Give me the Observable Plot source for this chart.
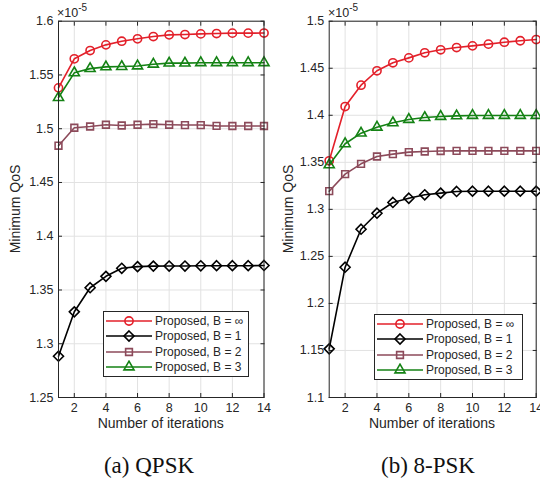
<!DOCTYPE html>
<html>
<head>
<meta charset="utf-8">
<script src="https://cdn.jsdelivr.net/npm/d3@7"></script>
<script src="https://cdn.jsdelivr.net/npm/@observablehq/plot@0.6"></script>
<style>
  body { margin: 0; background: #fff; }
  #wrap { position: relative; width: 540px; height: 483px; overflow: hidden; font-family: "Liberation Sans", Arial, sans-serif; color: #262626; }
  .panel { position: absolute; top: 0; }
  .lbl { position: absolute; font-size: 14px; line-height: 14px; white-space: nowrap; }
  .ylbl { position: absolute; font-size: 14px; line-height: 14px; white-space: nowrap; transform: translate(-50%, -50%) rotate(-90deg); }
  .exp { position: absolute; font-size: 12.5px; white-space: nowrap; }
  .exp sup { font-size: 10px; position: relative; top: -1px; }
  .cap { position: absolute; font-family: "Liberation Serif", "Times New Roman", serif; font-size: 23px; color: #111; white-space: nowrap; transform: translateX(-50%); }
  .legend { position: absolute; background: #fff; border: 1px solid #262626; font-size: 12px; padding: 1px 0 1px 0; }
  .legend .row { display: flex; align-items: center; height: 15.5px; }
  .legend svg { margin: 0 3px 0 2px; }
</style>
</head>
<body>
<div id="wrap"></div>
<script>
// ---- data ----
const iterations = [1, 2, 3, 4, 5, 6, 7, 8, 9, 10, 11, 12, 13, 14];
const seriesNames = ["Proposed, B = \u221e", "Proposed, B = 1", "Proposed, B = 2", "Proposed, B = 3"];
const seriesColors = ["#e3202a", "#000000", "#8c4a5a", "#148214"];
const seriesSymbols = ["circle", "diamond2", "square2", "triangle2"];
const seriesR = [4.1, 4.5, 4.3, 4.8];

// QPSK (x 1e-5)
const qpskInf = [1.538, 1.565, 1.5727, 1.578, 1.5814, 1.5836, 1.5857, 1.5873, 1.5876, 1.5882, 1.5885, 1.5889, 1.5889, 1.589];
const qpskB1 = [1.2884, 1.3297, 1.3521, 1.3627, 1.3702, 1.3717, 1.3722, 1.3723, 1.3723, 1.3725, 1.3726, 1.3726, 1.3726, 1.3728];
const qpskB2 = [1.4842, 1.5009, 1.5021, 1.5037, 1.5030, 1.5037, 1.5043, 1.5037, 1.5034, 1.5034, 1.5026, 1.5025, 1.5025, 1.5025];
const qpskB3 = [1.529, 1.552, 1.5559, 1.5575, 1.5578, 1.5584, 1.5600, 1.5610, 1.5610, 1.5614, 1.5614, 1.5614, 1.5614, 1.5614];

// 8-PSK (x 1e-5)
const psk8Inf = [1.3516, 1.4093, 1.432, 1.4473, 1.4558, 1.461, 1.4664, 1.4696, 1.472, 1.4738, 1.4756, 1.4777, 1.4792, 1.4805];
const psk8B1 = [1.1517, 1.2385, 1.2789, 1.2959, 1.3073, 1.3118, 1.3155, 1.3172, 1.3190, 1.3193, 1.3193, 1.3193, 1.3193, 1.3193];
const psk8B2 = [1.3193, 1.3374, 1.3484, 1.3562, 1.3587, 1.3608, 1.3615, 1.3620, 1.3622, 1.3622, 1.3622, 1.3622, 1.3622, 1.3622];
const psk8B3 = [1.3473, 1.3697, 1.381, 1.3873, 1.392, 1.3955, 1.3976, 1.3987, 1.3994, 1.3998, 1.3998, 1.3998, 1.3998, 1.3998];

// ticks
const xTicks = [2, 4, 6, 8, 10, 12, 14];
const qpskYTicks = [1.25, 1.3, 1.35, 1.4, 1.45, 1.5, 1.55, 1.6];
const psk8YTicks = [1.1, 1.15, 1.2, 1.25, 1.3, 1.35, 1.4, 1.45, 1.5];

const xLabel = "Number of iterations";
const yLabel = "Minimum QoS";
const captions = ["(a) QPSK", "(b) 8-PSK"];

function toRows(seriesArrays) {
  const rows = [];
  seriesArrays.forEach((arr, s) => arr.forEach((v, i) => rows.push({x: iterations[i], y: v, s})));
  return rows;
}

const axisColor = "#262626";
const fmt = d => String(+d.toFixed(2));

function makePanel(seriesArrays, yDomain, yTicks, mLeft, mRight) {
  const rows = toRows(seriesArrays);
  const marks = [
    Plot.gridX(xTicks, {stroke: "#e2e2e2", strokeOpacity: 1}),
    Plot.gridY(yTicks, {stroke: "#e2e2e2", strokeOpacity: 1}),
    Plot.axisX(xTicks, {anchor: "bottom", tickSize: -4, tickPadding: 10, tickFormat: d => String(d), fontSize: 12.5, color: axisColor, label: null}),
    Plot.axisX(xTicks, {anchor: "top", tickSize: -4, tickFormat: () => "", color: axisColor, label: null}),
    Plot.axisY(yTicks, {anchor: "left", tickSize: -4, tickPadding: 9, tickFormat: fmt, fontSize: 12.5, color: axisColor, label: null}),
    Plot.axisY(yTicks, {anchor: "right", tickSize: -4, tickFormat: () => "", color: axisColor, label: null}),
  ];
  seriesArrays.forEach((arr, s) => {
    const data = rows.filter(r => r.s === s);
    marks.push(Plot.line(data, {x: "x", y: "y", stroke: seriesColors[s], strokeWidth: 1.6}));
    marks.push(Plot.dot(data, {x: "x", y: "y", symbol: seriesSymbols[s], r: seriesR[s], stroke: seriesColors[s], fill: "none", strokeWidth: 1.6}));
  });
  marks.push(Plot.frame({stroke: axisColor, strokeWidth: 1}));
  return Plot.plot({
    width: 270,
    height: 440,
    marginLeft: mLeft,
    marginRight: mRight,
    marginTop: 20.7,
    marginBottom: 43,
    x: {domain: [1, 14]},
    y: {domain: yDomain},
    style: {fontFamily: "Liberation Sans, Arial, sans-serif", fontSize: "12.5px", color: axisColor, overflow: "visible", background: "transparent"},
    marks
  });
}

const wrap = document.getElementById("wrap");

function addPanel(left, svg, xCenter, yLblX, expX, cap, capX, legendBox) {
  const div = document.createElement("div");
  div.className = "panel";
  div.style.left = left + "px";
  div.appendChild(svg);
  wrap.appendChild(div);

  const xl = document.createElement("div");
  xl.className = "lbl";
  xl.textContent = xLabel;
  xl.style.left = xCenter + "px";
  xl.style.top = "416px";
  xl.style.transform = "translateX(-50%)";
  wrap.appendChild(xl);

  const yl = document.createElement("div");
  yl.className = "ylbl";
  yl.textContent = yLabel;
  yl.style.left = yLblX + "px";
  yl.style.top = "209px";
  wrap.appendChild(yl);

  const ex = document.createElement("div");
  ex.className = "exp";
  ex.innerHTML = "\u00d710<sup>-5</sup>";
  ex.style.left = expX + "px";
  ex.style.top = "3px";
  wrap.appendChild(ex);

  const c = document.createElement("div");
  c.className = "cap";
  c.textContent = cap;
  c.style.left = capX + "px";
  c.style.top = "453px";
  wrap.appendChild(c);

  const lg = document.createElement("div");
  lg.className = "legend";
  lg.style.left = legendBox.x + "px";
  lg.style.top = legendBox.y + "px";
  lg.style.width = legendBox.w + "px";
  seriesNames.forEach((name, s) => {
    const row = document.createElement("div");
    row.className = "row";
    const sw = d3.create("svg").attr("width", 46).attr("height", 14);
    sw.append("line").attr("x1", 0).attr("x2", 46).attr("y1", 7).attr("y2", 7)
      .attr("stroke", seriesColors[s]).attr("stroke-width", 1.6);
    const symMap = {circle: d3.symbolCircle, diamond2: d3.symbolDiamond2, square2: d3.symbolSquare2, triangle2: d3.symbolTriangle2};
    sw.append("path").attr("transform", "translate(23,7)")
      .attr("d", d3.symbol(symMap[seriesSymbols[s]], Math.PI * seriesR[s] * seriesR[s])())
      .attr("fill", "none").attr("stroke", seriesColors[s]).attr("stroke-width", 1.6);
    row.appendChild(sw.node());
    const t = document.createElement("span");
    t.textContent = name;
    row.appendChild(t);
    lg.appendChild(row);
  });
  wrap.appendChild(lg);
}

const left = makePanel([qpskInf, qpskB1, qpskB2, qpskB3], [1.25, 1.6], qpskYTicks, 58, 6.5);
const right = makePanel([psk8Inf, psk8B1, psk8B2, psk8B3], [1.1, 1.5], psk8YTicks, 58.7, 4.3);

addPanel(0, left, 160.7, 15, 57, captions[0], 149, {x: 103, y: 311, w: 144});
addPanel(270, right, 432, 288, 328, captions[1], 428, {x: 374, y: 314, w: 147});
</script>
</body>
</html>
